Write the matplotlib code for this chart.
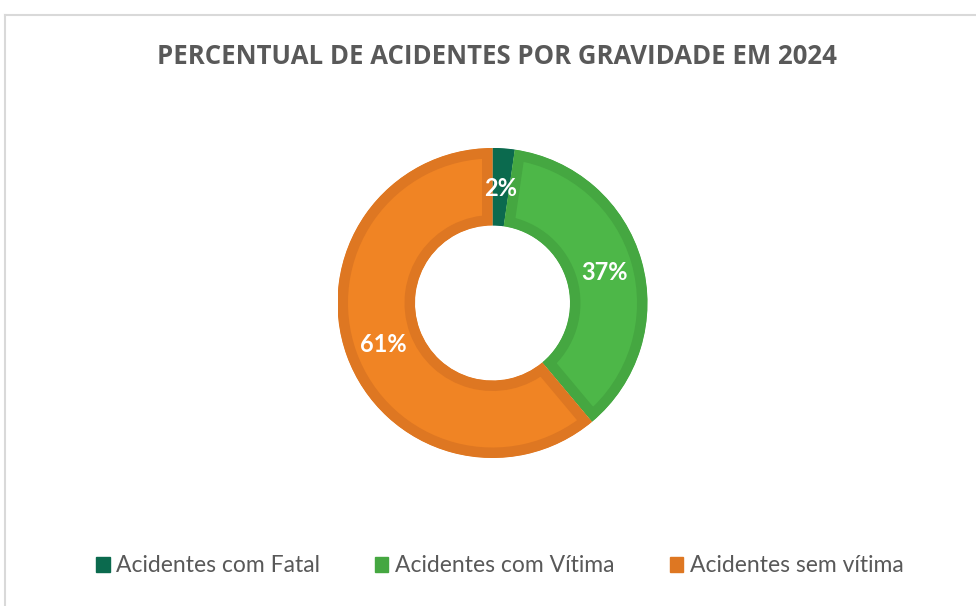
import matplotlib
matplotlib.use("Agg")
import matplotlib.pyplot as plt
from matplotlib.patches import Patch
from matplotlib.lines import Line2D
import numpy as np

categories = ["Acidentes com Fatal", "Acidentes com Vítima", "Acidentes sem vítima"]
values = [2.3, 36.6, 61.1]
pct_labels = ["2%", "37%", "61%"]
title = "PERCENTUAL DE ACIDENTES POR GRAVIDADE EM 2024"

fill_colors = ["#0B6A4E", "#4DB748", "#F08424"]
edge_colors = ["#0B6A4E", "#45A741", "#DE7722"]

W, H = 976, 606
fig = plt.figure(figsize=(W / 100, H / 100), dpi=100)
fig.patch.set_facecolor("white")

cx, cy, R = 492.5, 303, 155
ax = fig.add_axes([(cx - R) / W, (H - cy - R) / H, 2 * R / W, 2 * R / H])

wedges, texts = ax.pie(values, colors=fill_colors, startangle=90, counterclock=False,
                       radius=1.0, wedgeprops=dict(width=0.5))
for w, ec in zip(wedges, edge_colors):
    w.set_edgecolor(ec)
    w.set_linewidth(21 * 72 / 100)
    w.set_joinstyle("miter")
    w.set_clip_on(True)
    w.set_clip_path(w)

cum = np.cumsum([0] + values[:-1])
for v, c0, lab in zip(values, cum, pct_labels):
    mid = (c0 + v / 2) / sum(values) * 2 * np.pi
    r = 0.75
    ax.text(r * np.sin(mid), r * np.cos(mid) - 0.01, lab, ha="center", va="center",
            color="white", fontsize=17, fontweight="bold", family="Lato")

ax.set_xlim(-1, 1)
ax.set_ylim(-1, 1)
ax.set_axis_off()

fig.text(497 / W, 1 - 56 / H, title, ha="center", va="center", fontsize=18.5,
         fontweight="bold", color="#595959", family="Open Sans")

handles = [Patch(facecolor=c, edgecolor=c) for c in edge_colors]
leg = fig.legend(handles, categories, loc="center", bbox_to_anchor=(500 / W, 1 - 566 / H),
                 ncol=3, frameon=False, handlelength=0.57, handleheight=0.6,
                 handletextpad=0.3, columnspacing=2.4,
                 prop=dict(family="Lato", size=16.5))
for t in leg.get_texts():
    t.set_color("#595959")

fig.add_artist(Line2D([4.5 / W, 4.5 / W], [0, 1 - 15 / H], color="#D9D9D9", lw=1.5,
                      transform=fig.transFigure))
fig.add_artist(Line2D([4.5 / W, 1], [1 - 15 / H, 1 - 15 / H], color="#D9D9D9", lw=1.5,
                      transform=fig.transFigure))

fig.savefig("out.png", dpi=100, facecolor="white")
